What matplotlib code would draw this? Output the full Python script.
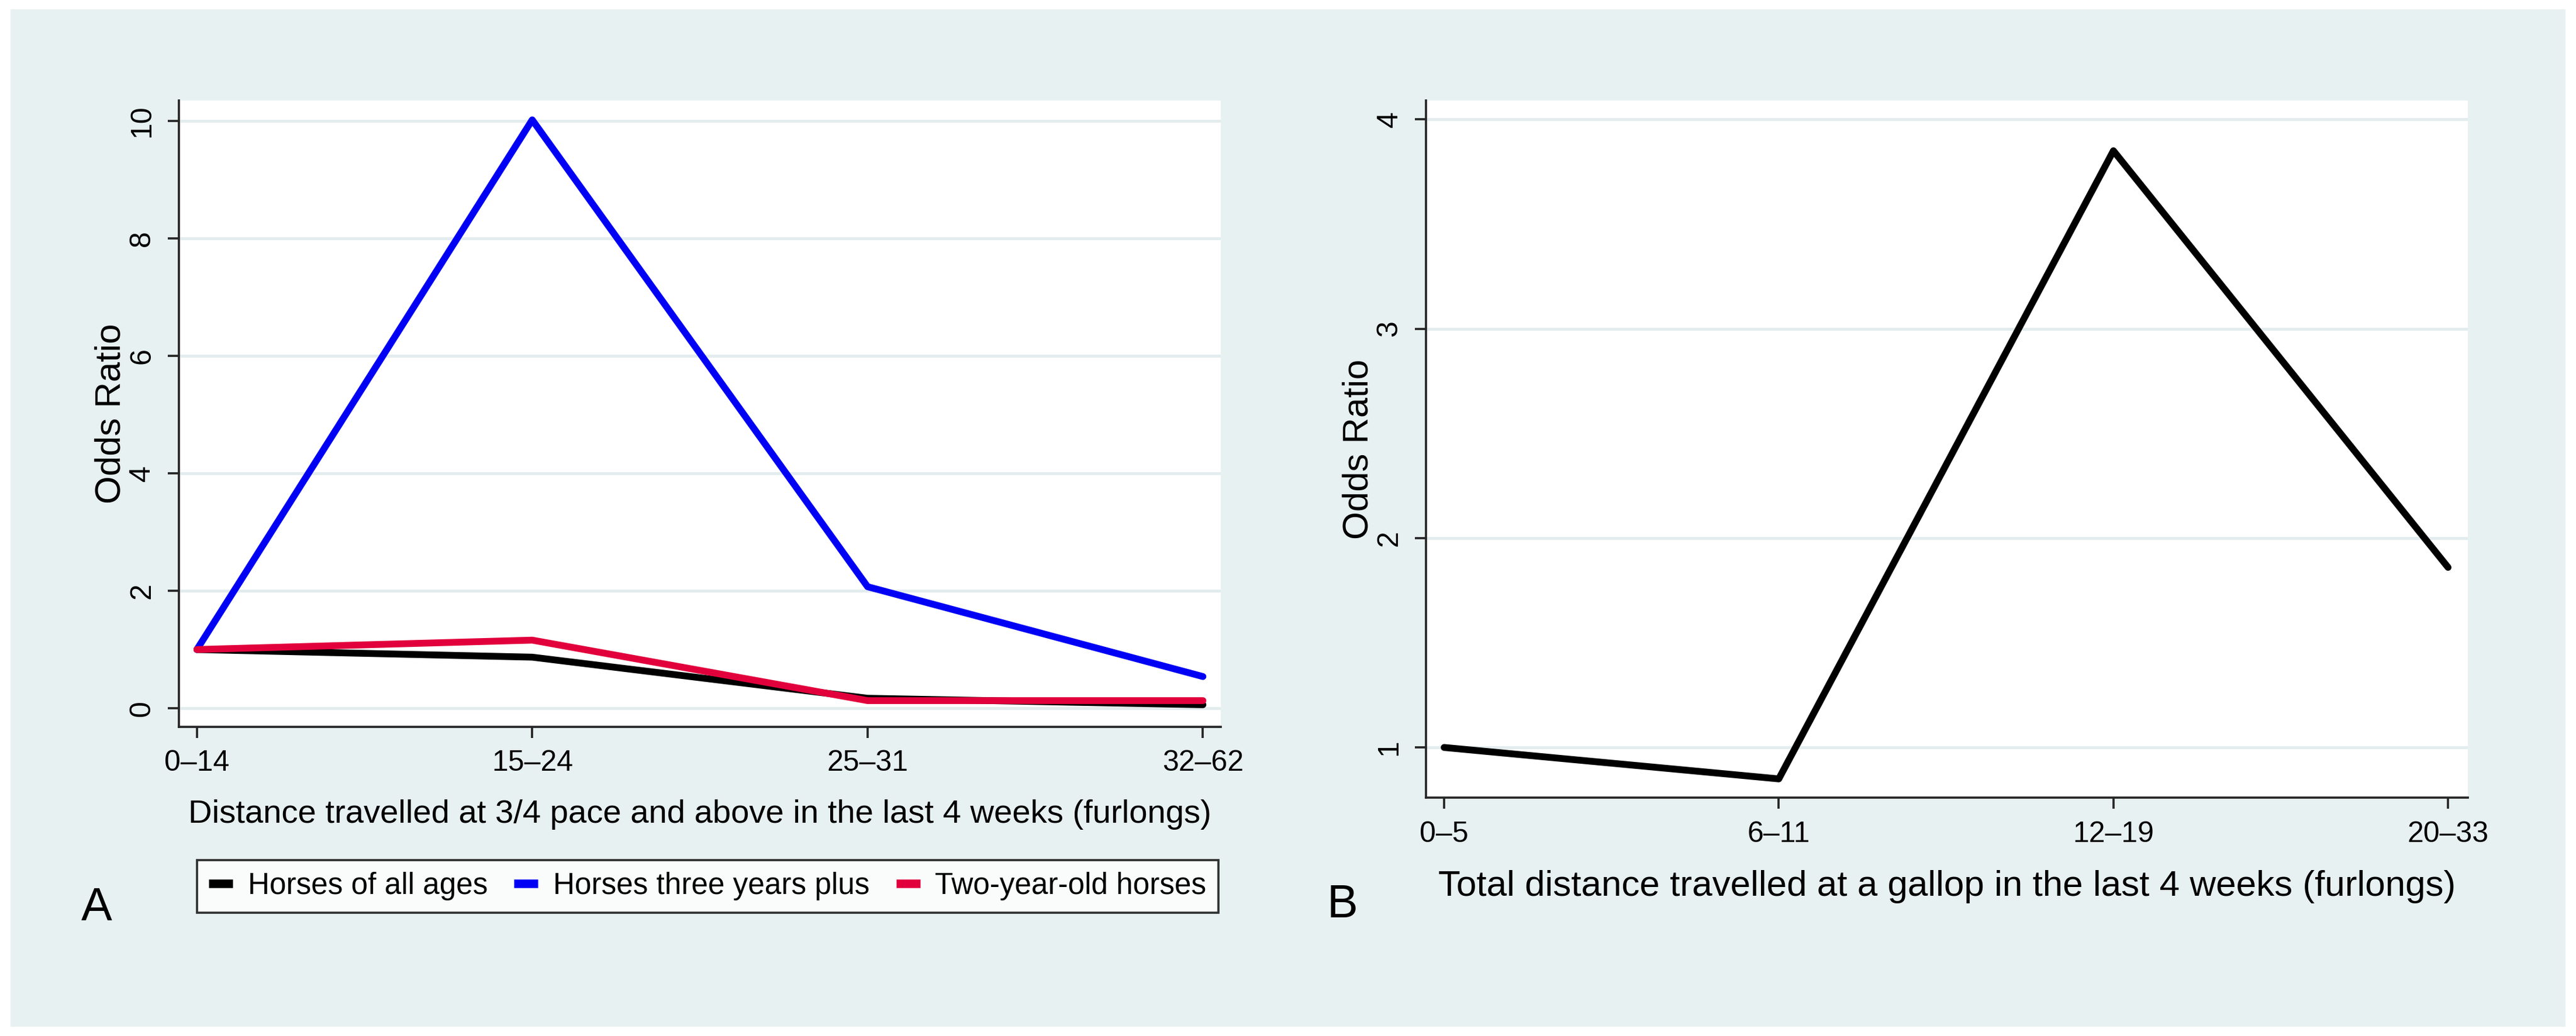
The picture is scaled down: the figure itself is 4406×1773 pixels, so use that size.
import matplotlib
matplotlib.use("Agg")
import matplotlib.pyplot as plt
from matplotlib.patches import Rectangle

# --- data ---
pace_cats = ["0\u201314", "15\u201324", "25\u201331", "32\u201362"]
all_ages = [1.0, 0.87, 0.17, 0.06]
three_plus = [1.0, 10.02, 2.07, 0.54]
two_year = [1.0, 1.16, 0.13, 0.13]

gallop_cats = ["0\u20135", "6\u201311", "12\u201319", "20\u201333"]
gallop_or = [1.0, 0.85, 3.85, 1.86]

yticks_a = [0, 2, 4, 6, 8, 10]
yticks_b = [1, 2, 3, 4]

# --- style ---
plt.rcParams["font.family"] = ["Liberation Sans", "DejaVu Sans"]
bg = "#E8F1F2"
grid_col = "#E3ECEE"
spine_col = "#262626"
lw = 2.8
W, H = 4406, 1773

fig = plt.figure(figsize=(W / 300, H / 300), dpi=300, facecolor="white")
fig.patches.append(Rectangle((20 / W, 18 / H), (W - 40) / W, (H - 36) / H,
                             transform=fig.transFigure, color=bg, zorder=-1))

ax_a = fig.add_axes([0.0694, 0.2985, 0.4046, 0.6045])
ax_b = fig.add_axes([0.5536, 0.230, 0.4044, 0.673])


def style_axes(ax, yticks, ylab_size):
    ax.set_facecolor("white")
    for s in ["top", "right"]:
        ax.spines[s].set_visible(False)
    for s in ["left", "bottom"]:
        ax.spines[s].set_color(spine_col)
        ax.spines[s].set_linewidth(0.9)
    ax.set_yticks(yticks)
    ax.yaxis.grid(True, color=grid_col, linewidth=1.2, zorder=0)
    ax.set_axisbelow(True)
    ax.tick_params(axis="both", direction="out", length=4.5, width=0.9,
                   color=spine_col, labelsize=12, pad=5)
    ax.tick_params(axis="y", labelrotation=90)
    for lab in ax.get_yticklabels():
        lab.set_va("center")
    ax.set_ylabel("Odds Ratio", fontsize=ylab_size)
    ax.yaxis.label.set_va("center")


line_kw = dict(lw=lw, solid_capstyle="round", solid_joinstyle="round")

# --- panel A ---
xa = range(len(pace_cats))
ax_a.plot(xa, all_ages, color="black", label="Horses of all ages", zorder=3, **line_kw)
ax_a.plot(xa, three_plus, color="#0000F5", label="Horses three years plus", zorder=3, **line_kw)
ax_a.plot(xa, two_year, color="#E2003C", label="Two-year-old horses", zorder=4, **line_kw)
ax_a.set_xticks(list(xa))
ax_a.set_xticklabels(pace_cats)
ax_a.set_xlim(-0.054, 3.054)
ax_a.set_ylim(-0.315, 10.35)
style_axes(ax_a, yticks_a, 14.8)
ax_a.set_xlabel("Distance travelled at 3/4 pace and above in the last 4 weeks (furlongs)",
                fontsize=13.5)
ax_a.xaxis.set_label_coords(0.5, -0.14)
ax_a.xaxis.label.set_va("center")
ax_a.yaxis.set_label_coords(-0.065, 0.5)

# --- panel B ---
xb = range(len(gallop_cats))
ax_b.plot(xb, gallop_or, color="black", zorder=3, **line_kw)
ax_b.set_xticks(list(xb))
ax_b.set_xticklabels(gallop_cats)
ax_b.set_xlim(-0.054, 3.059)
ax_b.set_ylim(0.76, 4.09)
style_axes(ax_b, yticks_b, 14.8)
ax_b.set_xlabel("Total distance travelled at a gallop in the last 4 weeks (furlongs)",
                fontsize=14.9)
ax_b.xaxis.set_label_coords(0.5, -0.128)
ax_b.xaxis.label.set_va("center")
ax_b.yaxis.set_label_coords(-0.0645, 0.5)

# --- legend for A ---
handles, labels = ax_a.get_legend_handles_labels()
leg = fig.legend(handles, labels, loc="center", ncol=3, mode="expand",
                 bbox_to_anchor=(0.0764, 0.118, 0.3966, 0.053),
                 fontsize=12.3, frameon=True, fancybox=False, edgecolor="black",
                 handlelength=0.8, handletextpad=0.5, borderaxespad=0,
                 borderpad=0.4)
leg.get_frame().set_linewidth(0.9)
for h in leg.get_lines():
    h.set_linewidth(3.5)
    h.set_solid_capstyle("butt")

# --- panel letters ---
fig.text(0.0376, 0.123, "A", fontsize=19, ha="center", va="center")
fig.text(0.521, 0.126, "B", fontsize=19, ha="center", va="center")

fig.savefig("out.png", dpi=300, facecolor="white")
